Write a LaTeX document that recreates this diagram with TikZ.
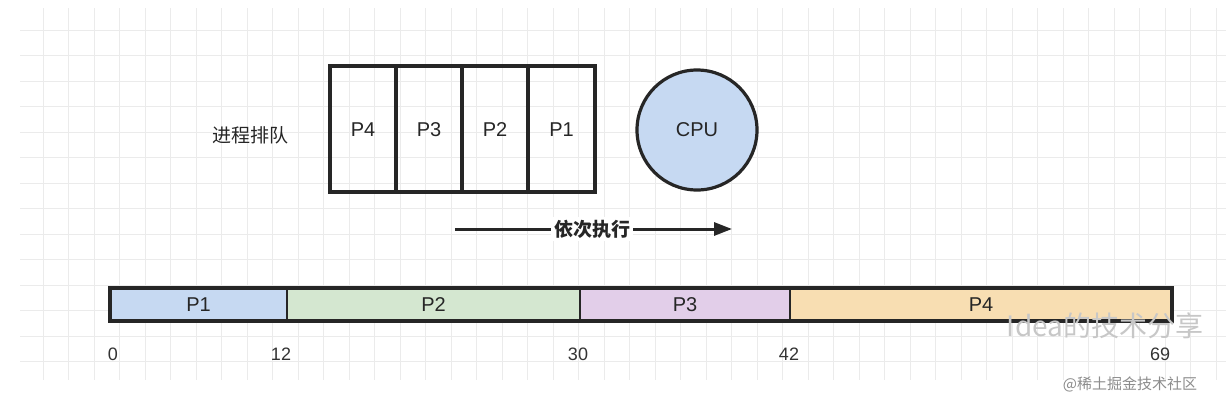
\documentclass[tikz,border=0pt]{standalone}
\usepackage{fontspec}
\usetikzlibrary{arrows.meta}
\setmainfont{Liberation Sans}
\newfontfamily\cjk{Noto Sans CJK SC}
\begin{document}
\begin{tikzpicture}[x=1pt,y=-1pt,
  box/.style={draw=black!85,line width=3.2pt},
  lab/.style={font=\fontsize{20}{20}\selectfont,text=black!85},
  num/.style={font=\fontsize{18}{18}\selectfont,text=black!80}]
\useasboundingbox (0,0) rectangle (1226,402);
\fill[white] (0,0) rectangle (1226,402);
\foreach \i in {0,...,46} \draw[black!8,line width=0.8pt] ({43+25.5*\i},8) -- ({43+25.5*\i},380);
\foreach \j in {0,...,13} \draw[black!8,line width=0.8pt] (20,{30+25.5*\j}) -- (1226,{30+25.5*\j});
% queue
\node[font=\fontsize{19}{19}\selectfont\cjk,text=black!85] (title) at (250,135) {进程排队};
\foreach \n/\a/\b in {P4/330/396,P3/396/462,P2/462/528,P1/528/595}{
  \draw[box] (\a,66) rectangle (\b,192);
  \node[lab] (q\n) at ({(\a+\b)/2},130) {\n};}
\node[circle,draw=black!85,line width=3.2pt,fill={rgb,255:red,198;green,217;blue,242},minimum size=120pt,lab] (cpu) at (697,130) {CPU};
% arrow
\coordinate (as) at (455,229);
\coordinate (ae) at (732,229);
\draw[line width=3pt,black!85,-{Triangle[length=18pt,width=13pt]}] (as) -- (ae);
\node[fill=white,font=\fontsize{19}{19}\selectfont\bfseries\cjk,text=black!85,inner sep=3pt] (order) at (592,229) {依次执行};
% bar
\foreach \n/\a/\b/\c in {P1/110/287/{198,217,242},P2/287/580/{212,231,208},P3/580/790/{226,206,233},P4/790/1172/{248,222,178}}{
  \definecolor{segc}{RGB}{\c}
  \fill[segc] (\a,288) rectangle (\b,321);
  \draw[black!85,line width=2pt] (\a,288) -- (\a,321);
  \node[lab] (b\n) at ({(\a+\b)/2},305) {\n};}
\draw[box] (110,288) rectangle (1172,321);
\foreach \v/\x in {0/113,12/281,30/578,42/789,69/1160} \node[num] (t\v) at (\x,354) {\v};
\node[font=\fontsize{28}{28}\selectfont\cjk,text=black!22] (wm) at (1105,326) {Idea的技术分享};
\node[font=\fontsize{15}{15}\selectfont\cjk,text=black!45] (wm2) at (1130,384) {@稀土掘金技术社区};
\end{tikzpicture}
\end{document}
